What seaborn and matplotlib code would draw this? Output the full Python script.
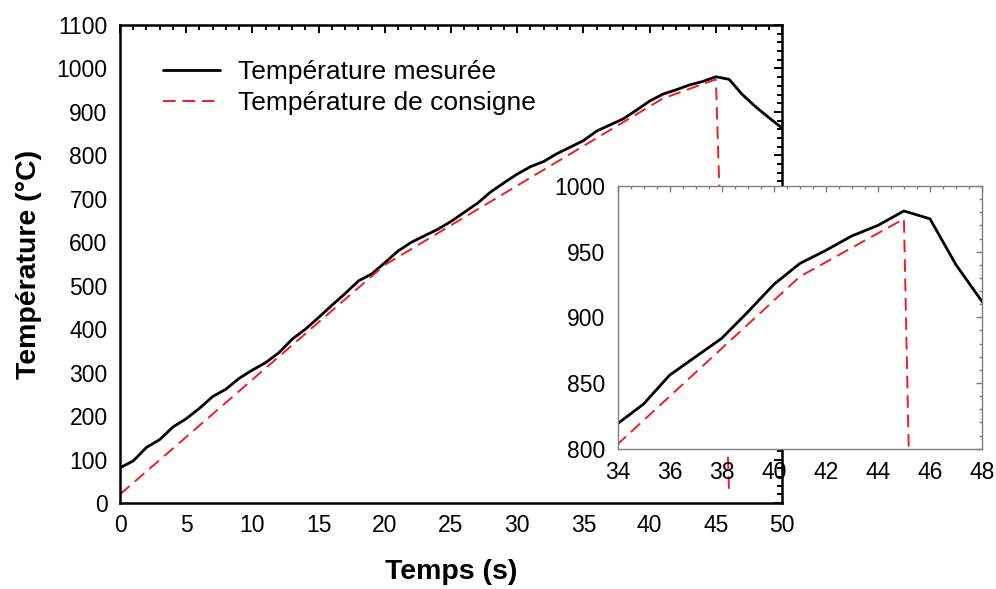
import matplotlib
matplotlib.use("Agg")
import matplotlib.pyplot as plt
import seaborn as sns
import pandas as pd
from matplotlib.ticker import MultipleLocator

# ---- data ----
temps_mesure = list(range(0, 51))
temp_mesuree = [81, 97, 128, 146, 175, 194, 218, 245, 262, 287,
                306, 323, 346, 377, 400, 427, 455, 482, 511, 527,
                553, 580, 600, 615, 630, 648, 669, 690, 716, 737,
                757, 774, 786, 804, 819, 834, 856, 870, 884, 904,
                925, 941, 951, 962, 970, 981, 975, 940, 912, 887,
                863]
temps_consigne = [0, 20, 41, 45, 46]
temp_consigne = [20, 548, 931, 975, 20]

label_mesure = "Température mesurée"
label_consigne = "Température de consigne"
xlabel = "Temps (s)"
ylabel = "Température (°C)"

sns.set_theme(style="white")
plt.rcParams['font.family'] = ['Liberation Sans', 'DejaVu Sans']
plt.rcParams['text.color'] = 'black'

RED = "#f01c24"
df_m = pd.DataFrame({"t": temps_mesure, "T": temp_mesuree})
df_c = pd.DataFrame({"t": temps_consigne, "T": temp_consigne})

fig = plt.figure(figsize=(9.96, 5.89), dpi=100)
fig.patch.set_facecolor("white")

# ---- main axes ----
ax = fig.add_axes([0.1205, 0.146, 0.6647, 0.8115])
ax.set_facecolor("white")
sns.lineplot(data=df_m, x="t", y="T", ax=ax, color="black", lw=2.0,
             label=label_mesure, sort=False)
sns.lineplot(data=df_c, x="t", y="T", ax=ax, color=RED, lw=1.4,
             linestyle=(0, (6.5, 3.5)), label=label_consigne, sort=False)
ax.set_xlim(0, 50)
ax.set_ylim(0, 1100)
ax.xaxis.set_major_locator(MultipleLocator(5))
ax.xaxis.set_minor_locator(MultipleLocator(1))
ax.yaxis.set_major_locator(MultipleLocator(100))
ax.yaxis.set_minor_locator(MultipleLocator(20))
ax.tick_params(which="both", direction="in", top=True, right=True,
               color="black", width=1.4, labelsize=16.5, labelcolor="black")
ax.tick_params(which="major", length=6)
ax.tick_params(which="minor", length=3.5)
ax.tick_params(axis="x", which="major", pad=8)
ax.tick_params(axis="y", which="major", pad=9)
for s in ax.spines.values():
    s.set_color("black")
    s.set_linewidth(1.8)
ax.set_xlabel(xlabel, fontsize=20.5, fontweight="bold", color="black")
ax.set_ylabel(ylabel, fontsize=20.5, fontweight="bold", color="black")
ax.xaxis.set_label_coords(0.5, -0.118)
ax.yaxis.set_label_coords(-0.118, 0.5)
leg = ax.legend(loc="upper left", bbox_to_anchor=(0.065, 0.927), frameon=False,
                fontsize=19, handlelength=2.15, handletextpad=0.7,
                labelspacing=0.27, borderpad=0, borderaxespad=0)

# ---- inset axes ----
axi = fig.add_axes([0.620, 0.2382, 0.366, 0.4460])
axi.set_facecolor("white")
sns.lineplot(data=df_m, x="t", y="T", ax=axi, color="black", lw=2.0,
             legend=False, sort=False)
sns.lineplot(data=df_c, x="t", y="T", ax=axi, color=RED, lw=1.4,
             linestyle=(0, (6.5, 3.5)), legend=False, sort=False)
axi.set_xlim(34, 48)
axi.set_ylim(800, 1000)
axi.xaxis.set_major_locator(MultipleLocator(2))
axi.xaxis.set_minor_locator(MultipleLocator(0.5))
axi.yaxis.set_major_locator(MultipleLocator(50))
axi.yaxis.set_minor_locator(MultipleLocator(10))
axi.tick_params(which="both", direction="in", top=True, right=True,
                color="#7f7f7f", width=1.0, labelsize=16.5, labelcolor="black")
axi.tick_params(which="major", length=4.5)
axi.tick_params(which="minor", length=2.5)
axi.tick_params(axis="x", which="major", pad=9)
axi.tick_params(axis="y", which="major", pad=9)
for s in axi.spines.values():
    s.set_color("#7f7f7f")
    s.set_linewidth(1.0)
axi.set_xlabel("")
axi.set_ylabel("")

fig.savefig("out.png", dpi=100, facecolor="white")
